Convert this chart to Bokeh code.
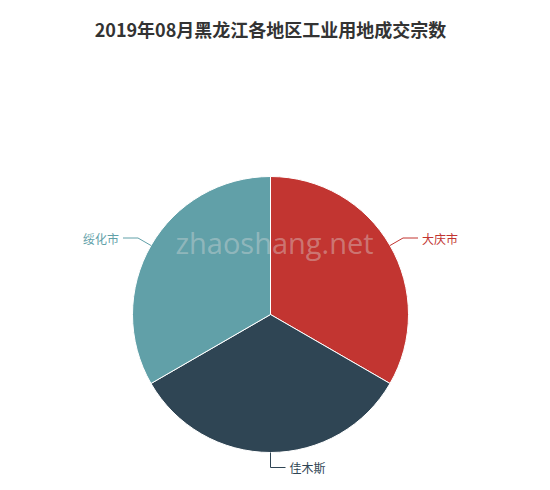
import numpy as np
from bokeh.plotting import figure
from bokeh.models import Range1d, ColumnDataSource
from bokeh.core.properties import value
from bokeh.embed import file_html
from bokeh.resources import INLINE

title_text = "2019年08月黑龙江各地区工业用地成交宗数"
categories = ["大庆市", "佳木斯", "绥化市"]
counts = [1, 1, 1]
colors = ["#c23531", "#2f4554", "#61a0a8"]
watermark = "zhaoshang.net"

W, H = 534, 482
p = figure(width=W, height=H, output_backend="svg", toolbar_location=None,
           x_range=Range1d(0, W), y_range=Range1d(0, H), min_border=0,
           outline_line_color=None, background_fill_color="white")
p.axis.visible = False
p.grid.visible = False

cx, cy, r = 270, H - 314, 138
vals = np.array(counts, dtype=float)
frac = vals / vals.sum()
cum = np.concatenate([[0], np.cumsum(frac)])
start = np.pi / 2 - cum[1:] * 2 * np.pi
end = np.pi / 2 - cum[:-1] * 2 * np.pi
mid = (start + end) / 2

src = ColumnDataSource(dict(start=start, end=end, color=colors, name=categories))
p.wedge(x=cx, y=cy, radius=r, start_angle="start", end_angle="end",
        fill_color="color", line_color="white", line_width=1, source=src)

# label lines
xs, ys, lx, ly, align = [], [], [], [], []
for m in mid:
    x0, y0 = cx + r * np.cos(m), cy + r * np.sin(m)
    x1, y1 = cx + (r + 15) * np.cos(m), cy + (r + 15) * np.sin(m)
    side = 1 if np.cos(m) >= -1e-9 else -1
    x2 = x1 + side * 15
    xs.append([x0, x1, x2]); ys.append([y0, y1, y1])
    lx.append(x2 + side * 4); ly.append(y1)
    align.append("left" if side > 0 else "right")

p.multi_line(xs=xs, ys=ys, line_color=colors, line_width=1)
p.text(x=lx, y=ly, text=categories, text_color=colors, text_align=align,
       text_baseline="middle", text_font_size="12px",
       text_font=value("Noto Sans CJK SC"))

p.text(x=[274], y=[H - 242], text=[watermark], text_color="#dddddd",
       text_alpha=0.4, text_align="center", text_baseline="middle",
       text_font_size="29px", text_font=value("Open Sans"))

p.text(x=[270], y=[H - 28], text=[title_text], text_color="#333333",
       text_align="center", text_baseline="middle", text_font_size="18px",
       text_font_style="bold", text_font=value("Noto Sans CJK SC"))

open("out.html", "w").write(file_html(p, INLINE))
